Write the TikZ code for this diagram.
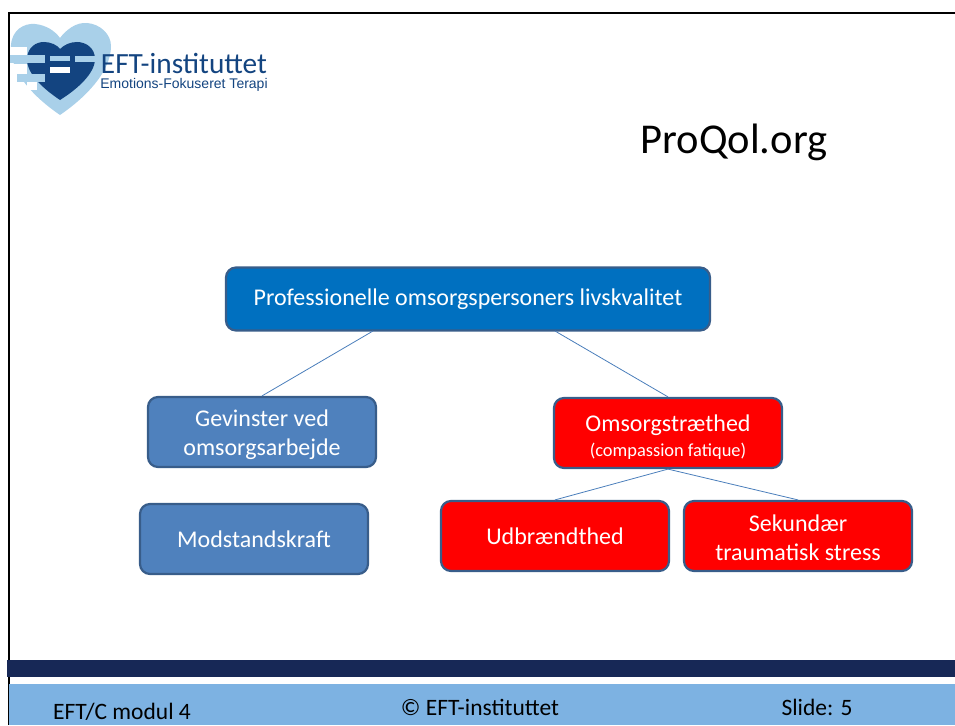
\documentclass[tikz,border=0pt]{standalone}
\usepackage{fontspec}
\setmainfont{Carlito}
\newfontfamily\logofont{Liberation Sans}
\definecolor{boxblue}{HTML}{4F81BD}
\definecolor{boxedge}{HTML}{385D8A}
\definecolor{topblue}{HTML}{0070C0}
\definecolor{barnavy}{HTML}{172856}
\definecolor{barblue}{HTML}{7DB2E2}
\definecolor{heartlight}{HTML}{A9D0E9}
\definecolor{heartdark}{HTML}{134480}
\definecolor{linkblue}{HTML}{4A7EBB}
\newcommand{\lowerby}[1]{\rule{0pt}{#1}}
\tikzset{
  bluebox/.style={draw=boxedge, line width=2.2pt, fill=boxblue, rounded corners=10pt, text=white, minimum width=228pt, minimum height=70pt, align=center, font=\fontsize{24}{29}\selectfont},
  redbox/.style={bluebox, fill=red},
  link/.style={draw=linkblue, line width=0.8pt},
  foot/.style={text=black, font=\fontsize{23.5}{26}\selectfont}
}
\begin{document}
\begin{tikzpicture}[x=1pt,y=-1pt]
\useasboundingbox (0,0) rectangle (955,725);

% logo
\fill [heartlight] (60,115) .. controls (35,98) and (9,72) .. (11,45) .. controls (12,30) and (24,23) .. (35,24) .. controls (46,25) and (55,31) .. (60,38) .. controls (66,30) and (76,22) .. (87,23) .. controls (100,24) and (111,34) .. (111,46) .. controls (111,72) and (85,98) .. (60,115) -- cycle;
\fill [heartdark] (60,100) .. controls (45,90) and (26,74) .. (27,58) .. controls (28,47) and (36,42) .. (44,42) .. controls (51,42) and (57,45) .. (60,49) .. controls (64,45) and (70,42) .. (77,42) .. controls (86,42) and (95,48) .. (95,59) .. controls (95,74) and (76,90) .. (60,100) -- cycle;
\fill [white] (10,47) rectangle (27,55);
\fill [white] (10,64) rectangle (27,74);
\fill [heartlight] (10,55) rectangle (45,63);
\fill [heartlight] (50,56) rectangle (70,61);
\fill [heartlight] (75,56) rectangle (97,62);
\fill [white] (50,67) rectangle (70,73);
\fill [heartlight] (17,74) rectangle (45,82);
\fill [white] (27,82) rectangle (37,90);
\node (logotitle) at (184,63) [text=heartdark, font=\fontsize{29.3}{30}\selectfont, inner sep=0pt] {EFT-instituttet};
\node (logosub) at (184,85) [text=heartdark, font=\logofont\fontsize{14}{14}\selectfont, inner sep=0pt] {Emotions-Fokuseret Terapi};

% frame
\draw [black, line width=2.4pt] (9,725) -- (9,13) -- (955,13);

% title
\node (title) at (734,142) [text=black, font=\fontsize{42.5}{46}\selectfont] {ProQol.org};

% boxes
\node (top) at (468,299) [bluebox, fill=topblue, minimum width=484pt, minimum height=63pt] {Professionelle omsorgspersoners livskvalitet};
\node (gain) at (262,432) [bluebox] {\lowerby{22pt}Gevinster ved\\omsorgsarbejde};
\node (resil) at (254,539) [bluebox] {Modstandskraft};
\node (fatigue) at (668,433) [redbox, font=\fontsize{24}{24}\selectfont] {\lowerby{24pt}Omsorgstræthed\\[1pt]{\fontsize{18.4}{20}\selectfont (compassion fatique)}};
\node (burnout) at (555,536) [redbox] {Udbrændthed};
\node (trauma) at (798,536) [redbox] {\lowerby{20pt}Sekundær\\traumatisk stress};

% links
\draw [link] (gain.north) -- (373,331);
\draw [link] (fatigue.north) -- (555,331);
\draw [link] (fatigue.south) -- (burnout.north);
\draw [link] (fatigue.south) -- (trauma.north);

% footer
\fill [barnavy] (7,660) rectangle (955,677);
\fill [barblue] (9,684) rectangle (955,725);
\node (modul) at (122,712) [foot] {EFT/C modul 4};
\node (copy) at (480,707) [foot] {© EFT-instituttet};
\node (slide) at (817,707) [foot] {Slide: 5};
\end{tikzpicture}
\end{document}
